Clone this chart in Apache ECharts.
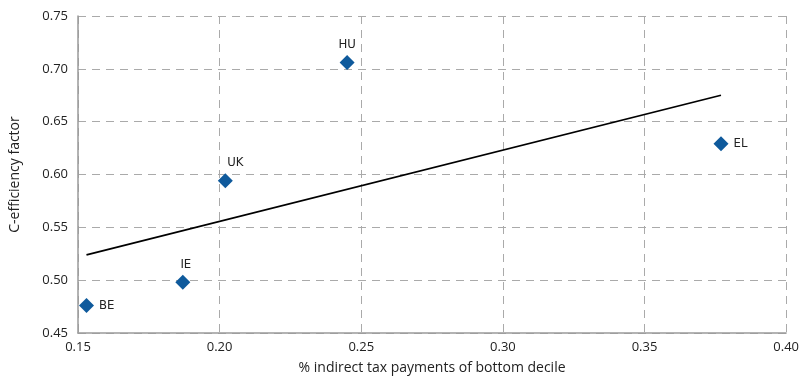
<!DOCTYPE html>
<html><head><meta charset="utf-8">
<script src="https://cdn.jsdelivr.net/npm/echarts@6/dist/echarts.min.js"></script>
<style>html,body{margin:0;padding:0;background:#fff}#c{width:802px;height:383px}</style>
</head><body><div id="c"></div>
<script>
const countries = ['BE', 'IE', 'UK', 'HU', 'EL'];
const xValues = [0.153, 0.187, 0.202, 0.245, 0.377];
const yValues = [0.476, 0.498, 0.594, 0.706, 0.629];
const trendX = [0.153, 0.377];
const trendY = [0.524, 0.675];
const labelSide = ['right', 'top', 'top', 'top', 'right'];

const labelFont = '"DejaVu Sans Condensed","Liberation Sans Narrow",sans-serif';
const tickFont = '"Open Sans","Noto Sans",sans-serif';

const pts = countries.map((c, i) => {
  const side = labelSide[i];
  let offset = [0, 0];
  if (c === 'IE') offset = [3, 0];
  if (c === 'UK') offset = [10, 0];
  return {
    value: [xValues[i], yValues[i]],
    name: c,
    label: { position: side, offset: offset, distance: side === 'right' ? 5 : 4 }
  };
});

const chart = echarts.init(document.getElementById('c'));
chart.setOption({
  animation: false,
  grid: { left: 78, right: 11, top: 16, bottom: 50 },
  xAxis: {
    type: 'value', min: 0.15, max: 0.40, interval: 0.05,
    name: '% indirect tax payments of bottom decile',
    nameLocation: 'middle', nameGap: 28,
    nameTextStyle: { fontFamily: tickFont, fontSize: 14, color: '#222' },
    axisLine: { show: true, lineStyle: { color: '#9a9a9a', width: 1.5 } },
    axisTick: { show: false },
    axisLabel: { fontFamily: tickFont, fontSize: 13, color: '#222', margin: 8,
      formatter: v => v.toFixed(2) },
    splitLine: { show: true, lineStyle: { color: '#aaaaaa', type: [8, 6], width: 1 } }
  },
  yAxis: {
    type: 'value', min: 0.45, max: 0.75, interval: 0.05,
    name: 'C-efficiency factor',
    nameLocation: 'middle', nameGap: 56,
    nameTextStyle: { fontFamily: tickFont, fontSize: 14, color: '#222' },
    axisLine: { show: true, lineStyle: { color: '#9a9a9a', width: 1.5 } },
    axisTick: { show: false },
    axisLabel: { fontFamily: tickFont, fontSize: 13, color: '#222', margin: 10,
      formatter: v => v.toFixed(2) },
    splitLine: { show: true, lineStyle: { color: '#aaaaaa', type: [8, 6], width: 1 } }
  },
  series: [
    {
      type: 'line',
      data: trendX.map((x, i) => [x, trendY[i]]),
      showSymbol: false, symbol: 'none',
      lineStyle: { color: '#000', width: 1.8 },
      z: 2
    },
    {
      type: 'scatter',
      symbol: 'diamond', symbolSize: [15, 15],
      itemStyle: { color: '#0f5a9c', opacity: 1 },
      data: pts,
      label: {
        show: true, formatter: p => p.name,
        fontFamily: labelFont, fontSize: 13, color: '#222'
      },
      z: 3
    }
  ]
});
</script></body></html>
